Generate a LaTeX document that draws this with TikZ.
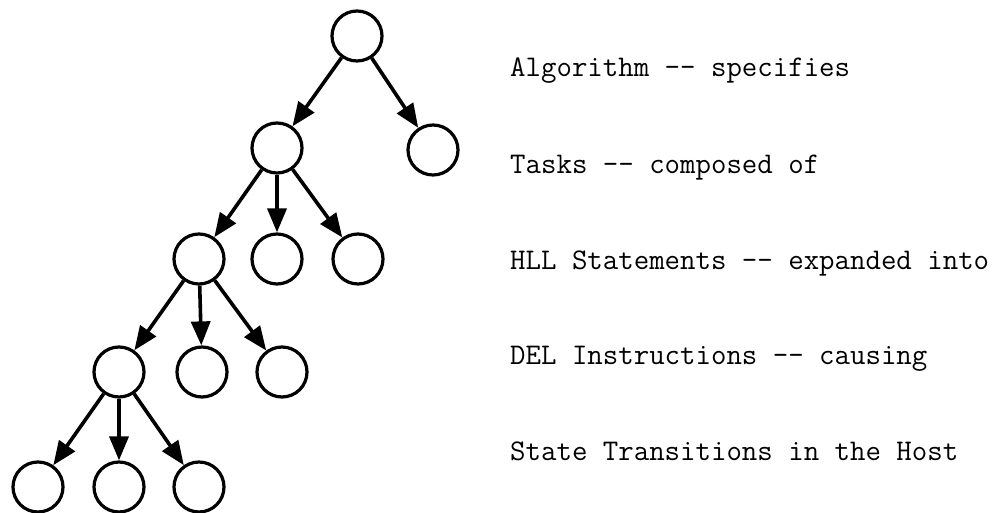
\documentclass[tikz,border=0pt]{standalone}
\usetikzlibrary{arrows.meta}
\begin{document}
\begin{tikzpicture}[x=1pt,y=1pt,
  tnode/.style={circle,draw,line width=3.2pt,minimum size=50pt,inner sep=0pt},
  conn/.style={line width=3.6pt,-{Triangle[length=24pt,width=19pt]}},
  lbl/.style={anchor=base west,inner sep=0pt,font=\ttfamily\fontsize{30}{30}\selectfont}]
\useasboundingbox (0,0) rectangle (1003,513);
\node[tnode] (r)  at (357,477) {};
\node[tnode] (a1) at (277,365) {};
\node[tnode] (a2) at (433,363) {};
\node[tnode] (b1) at (199,254) {};
\node[tnode] (b2) at (277,254) {};
\node[tnode] (b3) at (358,254) {};
\node[tnode] (c1) at (119,141) {};
\node[tnode] (c2) at (202,141) {};
\node[tnode] (c3) at (282,141) {};
\node[tnode] (d1) at (38,26) {};
\node[tnode] (d2) at (119,26) {};
\node[tnode] (d3) at (199,26) {};
\draw[conn] (r) -- (a1);
\draw[conn] (r) -- (a2);
\draw[conn] (a1) -- (b1);
\draw[conn] (a1) -- (b2);
\draw[conn] (a1) -- (b3);
\draw[conn] (b1) -- (c1);
\draw[conn] (b1) -- (c2);
\draw[conn] (b1) -- (c3);
\draw[conn] (c1) -- (d1);
\draw[conn] (c1) -- (d2);
\draw[conn] (c1) -- (d3);
\node[lbl] (t1) at (510,436) {Algorithm -- specifies};
\node[lbl] (t2) at (510,339) {Tasks -- composed of};
\node[lbl] (t3) at (510,243) {HLL Statements -- expanded into};
\node[lbl] (t4) at (510,148) {DEL Instructions -- causing};
\node[lbl] (t5) at (510,52) {State Transitions in the Host};
\end{tikzpicture}
\end{document}
